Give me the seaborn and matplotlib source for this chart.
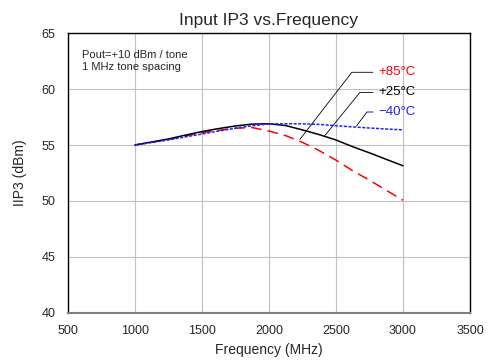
import pandas as pd
import seaborn as sns
import matplotlib
matplotlib.use('Agg')
import matplotlib.pyplot as plt

freq = [1000, 1125, 1250, 1375, 1500, 1625, 1750, 1875, 2000,
        2125, 2250, 2375, 2500, 2625, 2750, 2875, 3000]
iip3_m40 = [55.0, 55.22, 55.45, 55.72, 55.98, 56.25, 56.5, 56.72, 56.88,
            56.9, 56.89, 56.84, 56.72, 56.62, 56.52, 56.43, 56.35]
iip3_p25 = [55.0, 55.27, 55.54, 55.88, 56.2, 56.47, 56.7, 56.87, 56.9,
            56.74, 56.35, 55.93, 55.45, 54.85, 54.3, 53.72, 53.15]
iip3_p85 = [55.0, 55.25, 55.5, 55.8, 56.1, 56.32, 56.5, 56.56, 56.25,
            55.84, 55.24, 54.5, 53.65, 52.7, 51.86, 50.96, 50.06]

labels = ['+85°C', '+25°C', '\u221240°C']
colors = ['#ff0000', '#000000', '#2020ff']

rows = []
for lab, vals in zip(labels, [iip3_p85, iip3_p25, iip3_m40]):
    for f, v in zip(freq, vals):
        rows.append({'freq': f, 'iip3': v, 'temp': lab})
df = pd.DataFrame(rows)

sns.set_style('white')
plt.rcParams['font.family'] = ['Liberation Sans', 'DejaVu Sans']

fig = plt.figure(figsize=(4.88, 3.6), dpi=100)
ax = fig.add_axes([0.139, 0.131, 0.824, 0.777])

sns.lineplot(data=df, x='freq', y='iip3', hue='temp', style='temp',
             palette=dict(zip(labels, colors)),
             dashes={labels[0]: (7, 4), labels[1]: '', labels[2]: (2, 1)},
             linewidth=1.1, legend=False, ax=ax)

ax.set_xlim(500, 3500)
ax.set_ylim(40, 65)
ax.set_xticks(range(500, 3501, 500))
ax.set_yticks(range(40, 66, 5))
ax.grid(True, color='#c0c0c0', linewidth=0.8)
ax.tick_params(axis='x', length=0, labelsize=9, pad=9)
ax.tick_params(axis='y', length=0, labelsize=9, pad=9)
for s in ['top', 'right', 'left']:
    ax.spines[s].set_color('black')
    ax.spines[s].set_linewidth(1.0)
ax.spines['bottom'].set_color('#808080')
ax.spines['bottom'].set_linewidth(1.5)

ax.set_xlabel('Frequency (MHz)', fontsize=10, labelpad=4)
ax.set_ylabel('IIP3 (dBm)', fontsize=10, labelpad=10)
ax.set_title('Input IP3 vs.Frequency', fontsize=12.5, pad=6)

ax.text(0.035, 0.94, 'Pout=+10 dBm / tone\n1 MHz tone spacing',
        transform=ax.transAxes, fontsize=8, va='top', linespacing=1.3)

# leader lines: target on curve, elbow, end of horizontal
leaders = [
    ((2231, 55.5), (2619, 61.5), 2776, 61.5),
    ((2418, 55.85), (2679, 59.7), 2776, 59.7),
    ((2654, 56.7), (2731, 57.95), 2776, 57.95),
]
for (tgt, elb, xend, ty), lab, c in zip(leaders, labels, colors):
    ax.plot([tgt[0], elb[0], xend], [tgt[1], elb[1], ty], color='black', lw=0.6)
    ax.text(xend + 40, ty, lab, color=c, fontsize=9.5, va='center', ha='left')

fig.savefig('out.png', dpi=100)
